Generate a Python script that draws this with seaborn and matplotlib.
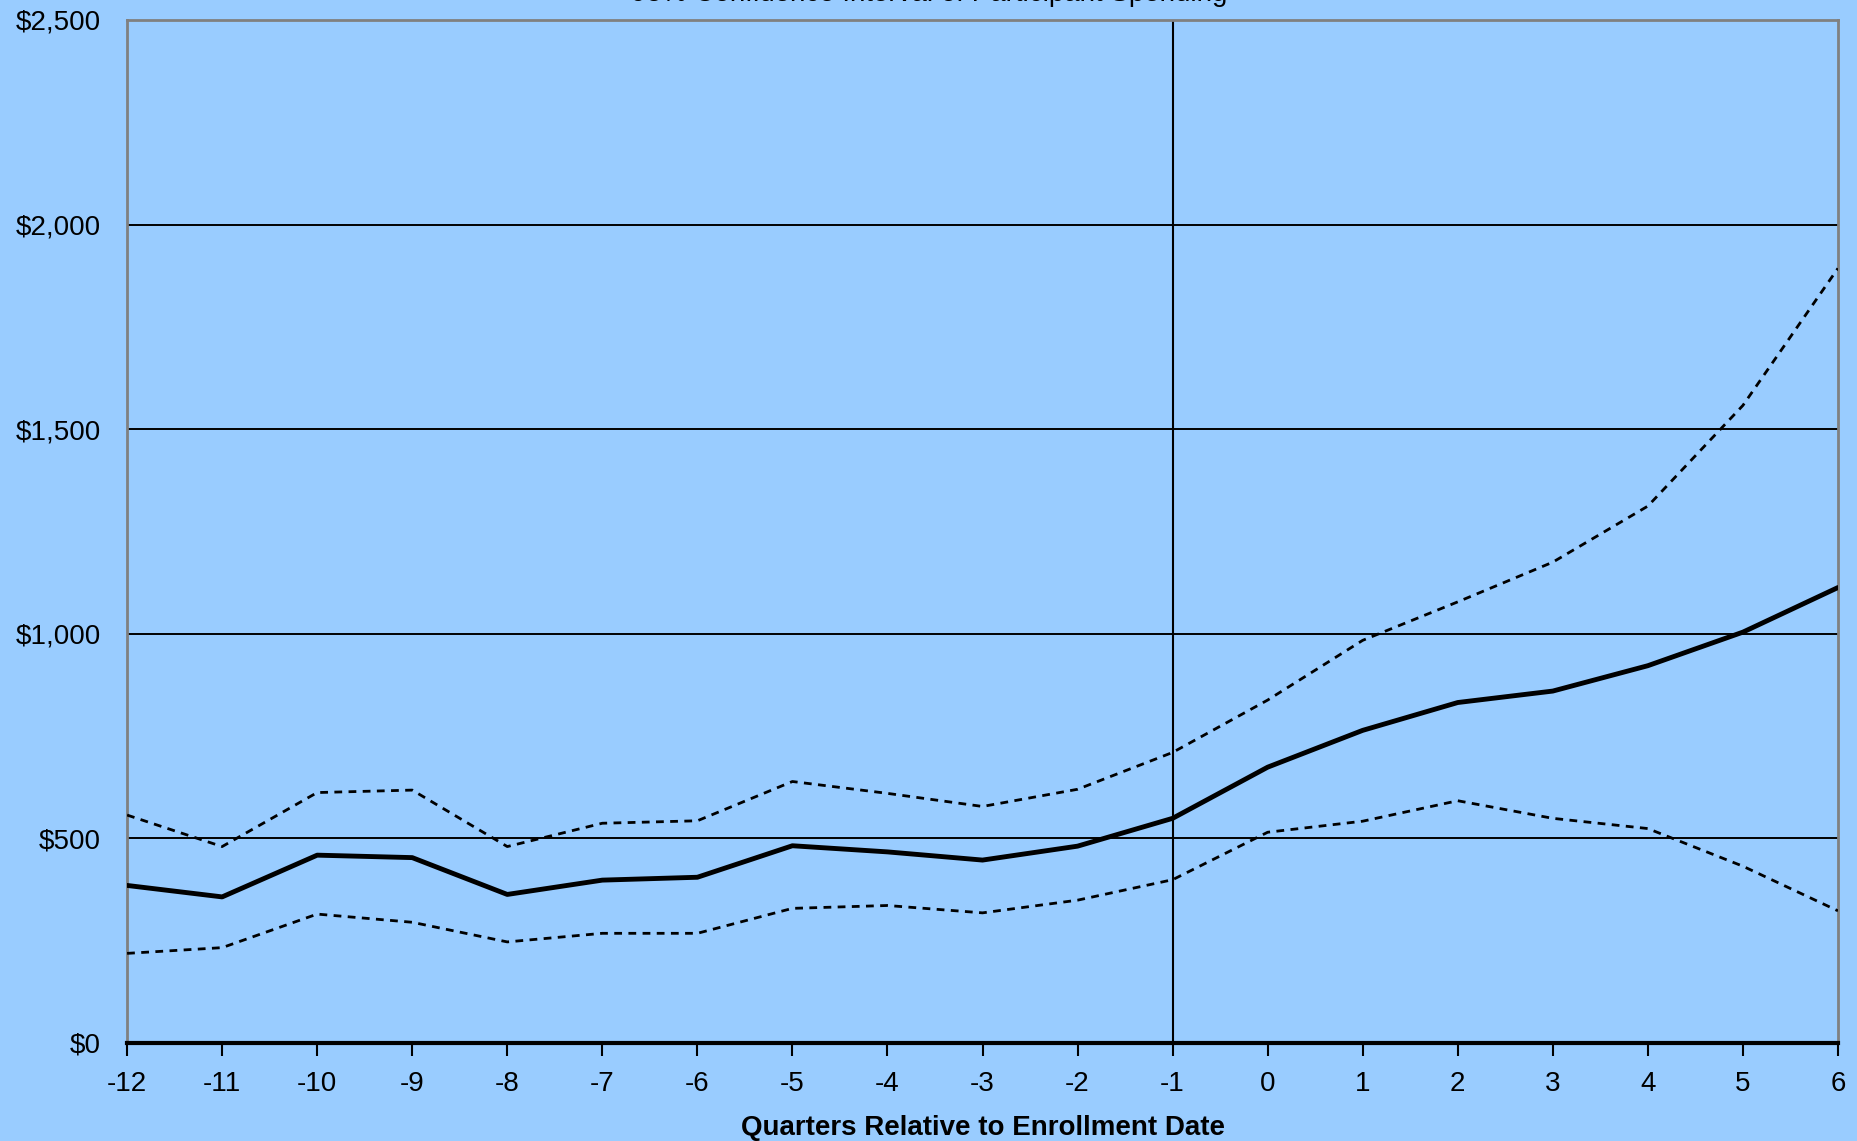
import pandas as pd
import seaborn as sns
import matplotlib.pyplot as plt
from matplotlib.ticker import FuncFormatter

# Quarters relative to enrollment and spending estimates
quarters = [-12, -11, -10, -9, -8, -7, -6, -5, -4, -3, -2, -1, 0, 1, 2, 3, 4, 5, 6]
spending = [385, 357, 459, 453, 363, 398, 405, 482, 467, 447, 481, 549,
            674, 764, 832, 860, 922, 1004, 1113]
upper_ci = [557, 480, 612, 618, 480, 537, 543, 639, 610, 578, 620, 710,
            838, 984, 1078, 1175, 1312, 1558, 1893]
lower_ci = [219, 233, 315, 295, 247, 268, 268, 329, 336, 318, 349, 399,
            515, 542, 592, 549, 524, 432, 323]

y_ticks = [0, 500, 1000, 1500, 2000, 2500]
title = "95% Confidence Interval of Participant Spending"
x_label = "Quarters Relative to Enrollment Date"

bg = "#99CCFF"

df = pd.DataFrame({
    "quarter": quarters,
    "spending": spending,
    "upper": upper_ci,
    "lower": lower_ci,
})

sns.set_theme(style="white")
plt.rcParams["font.family"] = ["Liberation Sans", "DejaVu Sans"]
plt.rcParams["axes.unicode_minus"] = False
plt.rcParams["text.color"] = "black"
plt.rcParams["xtick.color"] = "black"
plt.rcParams["ytick.color"] = "black"
plt.rcParams["axes.labelcolor"] = "black"

fig = plt.figure(figsize=(18.58, 11.41), dpi=100, facecolor=bg)
ax = fig.add_axes([0.0684, 0.0859, 0.9208, 0.8966])
ax.set_facecolor(bg)

# grid lines and the enrollment marker
for yv in y_ticks[1:-1]:
    ax.axhline(yv, color="black", lw=1.4, zorder=1)
ax.axvline(-1, color="black", lw=1.5, zorder=1)

# confidence bands (dashed) and mean spending (solid)
sns.lineplot(data=df, x="quarter", y="upper", ax=ax, color="black", lw=2.0,
             zorder=3).lines[-1].set_dashes((2.8, 2.3))
sns.lineplot(data=df, x="quarter", y="lower", ax=ax, color="black", lw=2.0,
             zorder=3).lines[-1].set_dashes((2.8, 2.3))
sns.lineplot(data=df, x="quarter", y="spending", ax=ax, color="black", lw=3.5,
             zorder=4)

ax.set_xlim(-12, 6)
ax.set_ylim(0, 2500)
ax.set_xticks(quarters)
ax.set_yticks(y_ticks)
ax.yaxis.set_major_formatter(FuncFormatter(lambda v, p: f"${v:,.0f}"))

ax.tick_params(axis="x", direction="out", length=9, width=1.5, color="black",
               labelsize=20, pad=11, bottom=True)
ax.tick_params(axis="y", length=0, labelsize=20, pad=19)

for side in ["left", "right", "top"]:
    ax.spines[side].set_color("#808080")
    ax.spines[side].set_linewidth(2)
ax.spines["bottom"].set_color("black")
ax.spines["bottom"].set_linewidth(3)
ax.spines["bottom"].set_zorder(5)

ax.set_xlabel(x_label, fontsize=20, fontweight="bold", labelpad=13)
ax.set_ylabel("")

# title sits mostly above the visible canvas, as in the original export
fig.text(0.5, 1 - 1.0 / 1141, title, ha="center", va="baseline", fontsize=20)

fig.savefig("out.png", dpi=100, facecolor=bg)
